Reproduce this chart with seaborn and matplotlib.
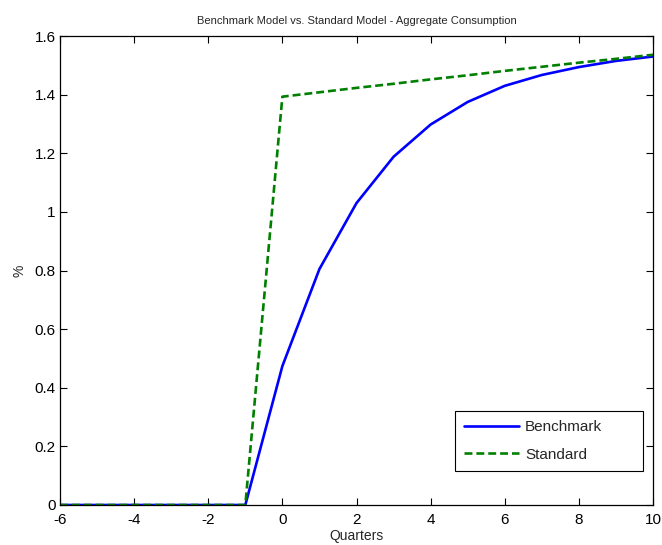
import numpy as np
import pandas as pd
import matplotlib
matplotlib.use("Agg")
import matplotlib.pyplot as plt
import seaborn as sns

quarters = [-6, -5, -4, -3, -2, -1, 0, 1, 2, 3, 4, 5, 6, 7, 8, 9, 10]
benchmark = [0, 0, 0, 0, 0, 0, 0.474, 0.805, 1.030, 1.188, 1.298, 1.375, 1.430, 1.467, 1.494, 1.515, 1.530]
standard = [0, 0, 0, 0, 0, 0, 1.393, 1.408, 1.423, 1.437, 1.452, 1.466, 1.481, 1.495, 1.509, 1.522, 1.536]
xticks = [-6, -4, -2, 0, 2, 4, 6, 8, 10]
yticks = [0, 0.2, 0.4, 0.6, 0.8, 1, 1.2, 1.4, 1.6]
ytick_labels = ["0", "0.2", "0.4", "0.6", "0.8", "1", "1.2", "1.4", "1.6"]

sns.set_style("white")
plt.rcParams['font.family'] = ['Liberation Sans', 'DejaVu Sans']

df = pd.DataFrame({
    "Quarters": quarters * 2,
    "value": benchmark + standard,
    "Model": ["Benchmark"] * len(quarters) + ["Standard"] * len(quarters),
})

fig = plt.figure(figsize=(6.62, 5.45), dpi=100)
ax = fig.add_axes([60 / 662, 1 - 505 / 545, (653 - 60) / 662, (505 - 36) / 545])

sns.lineplot(data=df, x="Quarters", y="value", hue="Model", style="Model",
             palette={"Benchmark": "#0000ff", "Standard": "#008000"},
             dashes={"Benchmark": "", "Standard": (3, 1.5)},
             linewidth=1.9, ax=ax, legend=True)

ax.set_xlim(-6, 10)
ax.set_ylim(0, 1.6)
ax.set_xticks(xticks)
ax.set_xticklabels([str(t) for t in xticks], fontsize=11)
ax.set_yticks(yticks)
ax.set_yticklabels(ytick_labels, fontsize=11)
ax.tick_params(direction="in", length=5, width=0.8, top=True, right=True,
               bottom=True, left=True, pad=3, colors="black")
ax.tick_params(axis="x", pad=6)
for s in ax.spines.values():
    s.set_visible(True)
    s.set_color("black")
    s.set_linewidth(0.9)
ax.set_xlabel("Quarters", fontsize=10, labelpad=1)
ax.set_ylabel("%", fontsize=10, labelpad=6)
ax.set_title("Benchmark Model vs. Standard Model - Aggregate Consumption", fontsize=8, pad=9)

leg = ax.legend(loc="lower left", bbox_to_anchor=(0.666, 0.0725, 0.317, 0.134),
                mode="expand", borderaxespad=0, fontsize=11,
                frameon=True, fancybox=False, edgecolor="black", framealpha=1,
                handlelength=3.6, handletextpad=0.4, borderpad=0.6, labelspacing=0.9)
leg.get_frame().set_linewidth(0.8)

fig.savefig("out.png", dpi=100)
